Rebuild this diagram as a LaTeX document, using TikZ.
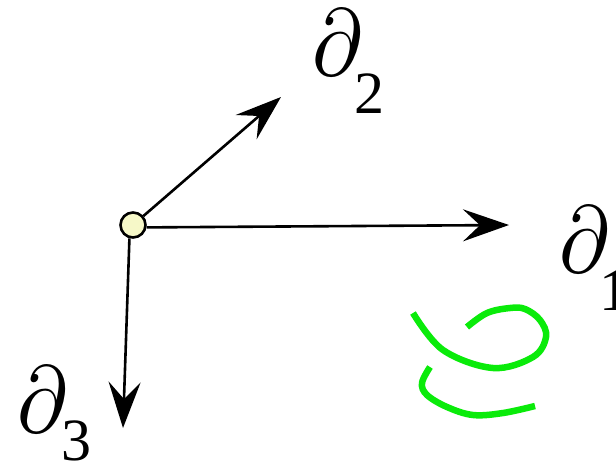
\documentclass[tikz,border=0pt]{standalone}
\usepackage{fontspec}
\setmainfont{Liberation Serif}
\usetikzlibrary{arrows.meta}
\definecolor{dotfill}{RGB}{246,248,200}
\definecolor{scribble}{RGB}{10,235,10}
\newcommand{\bigpartial}{\scalebox{8.5}[9.5]{$\partial$}}
\tikzset{
  dot/.style={circle,draw=black,line width=2.6pt,fill=dotfill,minimum size=25pt,inner sep=0pt},
  arr/.style={line width=2.6pt,-{Stealth[length=46pt,width=32pt,inset=17pt]}},
  big/.style={inner sep=0pt,anchor=base west},
  sub/.style={inner sep=0pt,anchor=base west,font=\fontsize{60}{60}\selectfont},
  green line/.style={draw=scribble,line width=6.5pt}
}
\begin{document}
\begin{tikzpicture}[x=1pt,y=-1pt]
\useasboundingbox (0,0) rectangle (616,467);
\node[dot] (o) at (133,225) {};
\coordinate (t1) at (509,225);
\coordinate (t2) at (281,97);
\coordinate (t3) at (123,428);
\draw[arr] (o.-10) -- (t1);
\draw[arr] (o) -- (t2);
\draw[arr] (o.-105) -- (t3);
\node[big] (d1) at (559,272) {\bigpartial};
\node[sub] (s1) at (599,310) {1};
\node[big] (d2) at (312,75) {\bigpartial};
\node[sub] (s2) at (354,113) {2};
\node[big] (d3) at (17,432) {\bigpartial};
\node[sub] (s3) at (61,460) {3};
\draw[green line] plot[smooth,tension=0.6] coordinates {(413,313) (443,350) (493,368) (533,357) (546,337) (540,320) (525,309) (510,308) (487,313) (467,327)};
\draw[green line] plot[smooth,tension=0.6] coordinates {(430,367) (422,383) (427,395) (447,407) (473,415) (503,413) (535,406)};
\end{tikzpicture}
\end{document}
